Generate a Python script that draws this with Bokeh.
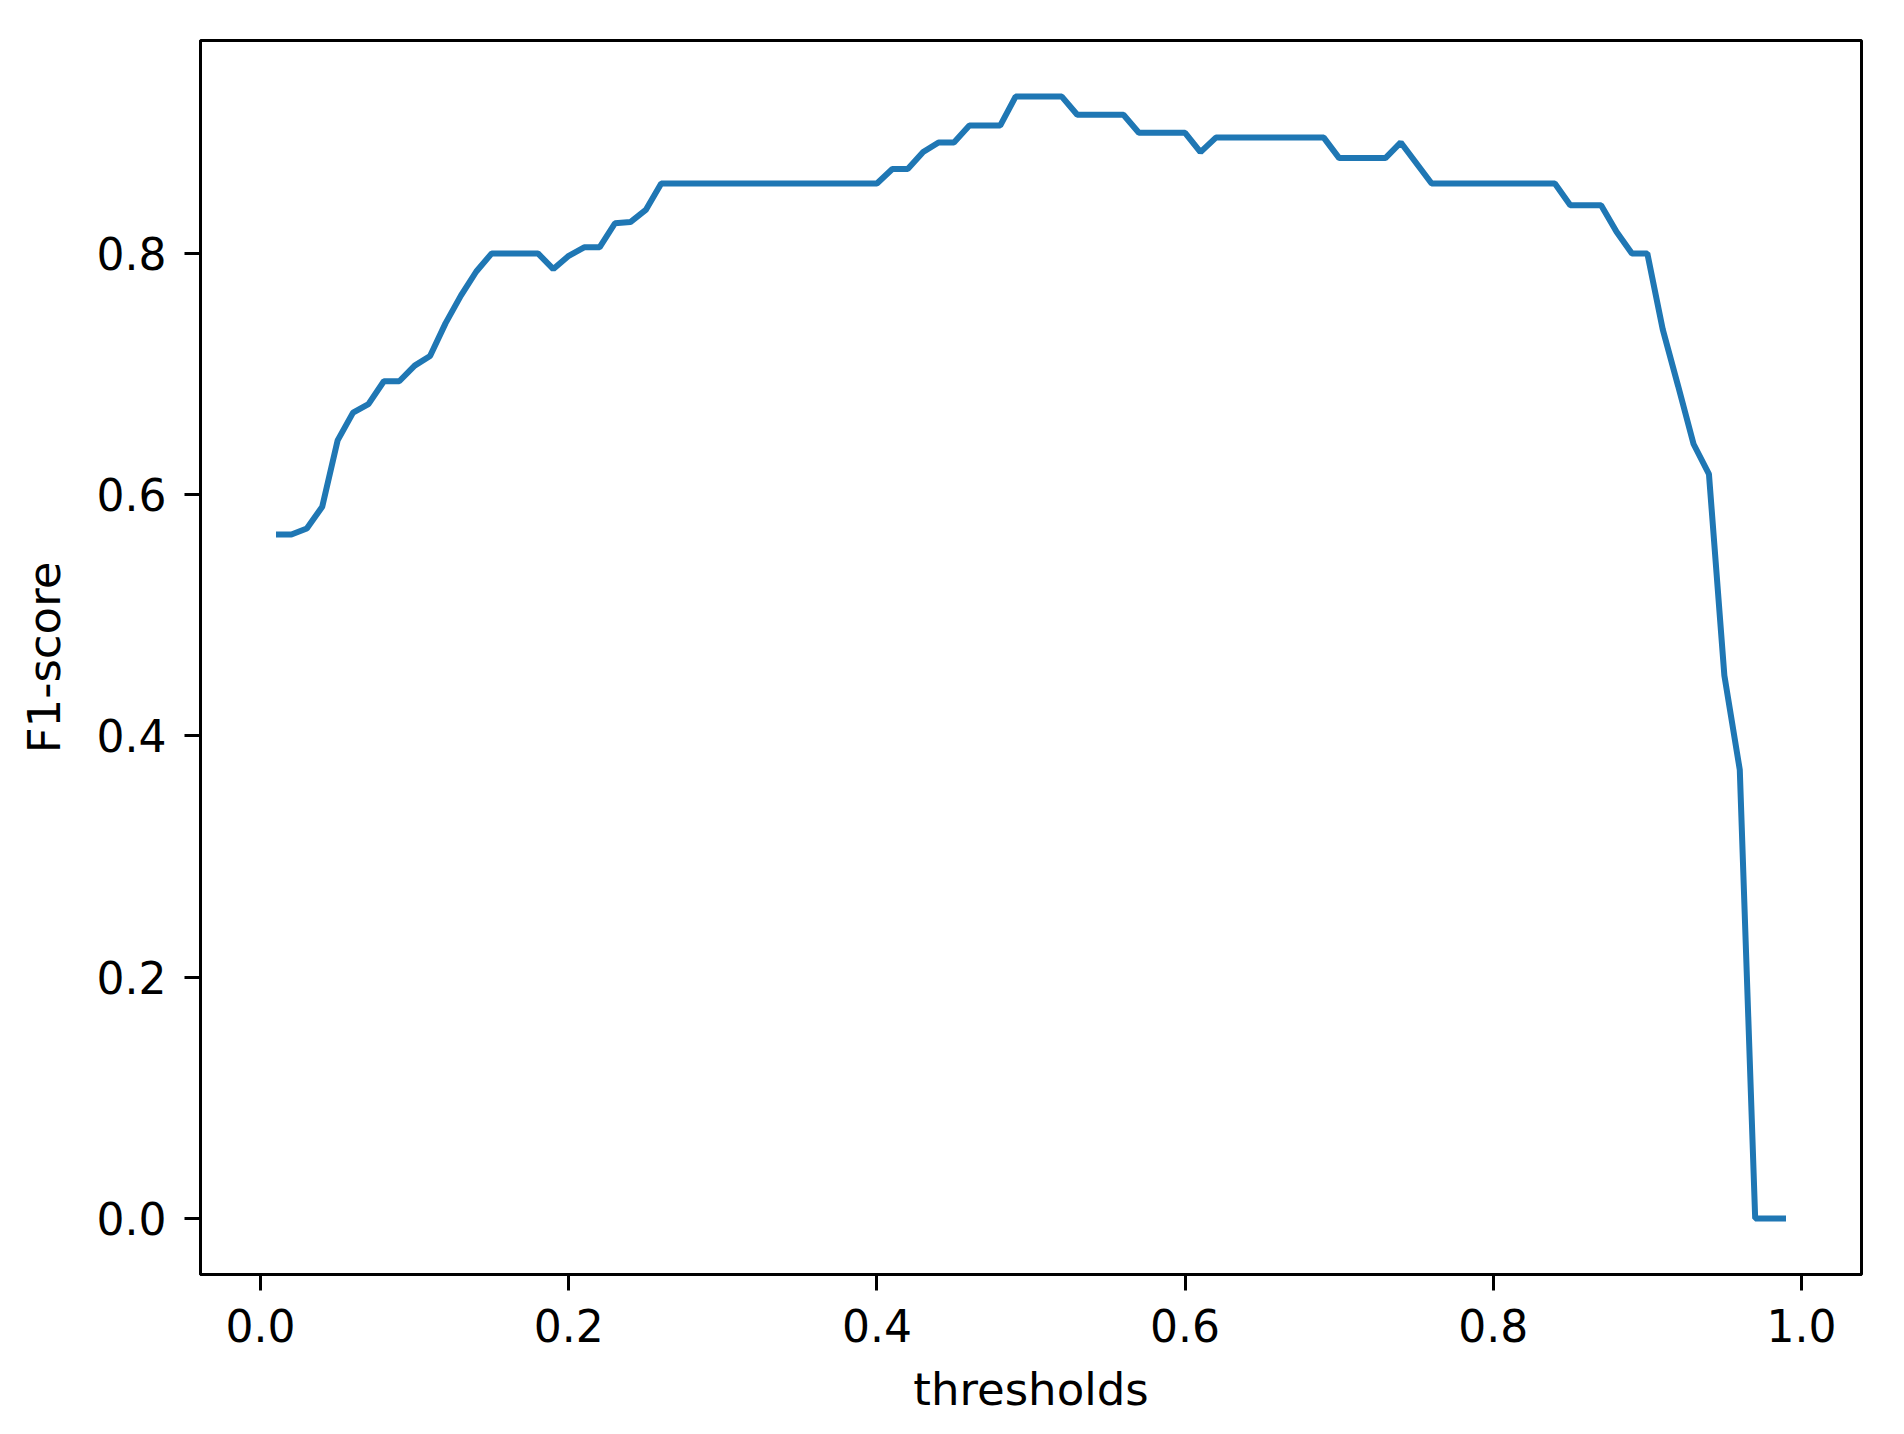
from bokeh.plotting import figure
from bokeh.models import Range1d, FixedTicker, NumeralTickFormatter, ColumnDataSource
from bokeh.embed import file_html
from bokeh.resources import INLINE

# thresholds 0.01 .. 0.99
thresholds = [round(0.01 * i, 2) for i in range(1, 100)]

f1_scores = [
    0.567, 0.567, 0.572, 0.590, 0.645, 0.668, 0.675, 0.694, 0.694, 0.707,   # 0.01-0.10
    0.715, 0.742, 0.765, 0.785, 0.800, 0.800, 0.800, 0.800, 0.787, 0.798,   # 0.11-0.20
    0.805, 0.805, 0.825, 0.826, 0.836, 0.858, 0.858, 0.858, 0.858, 0.858,   # 0.21-0.30
    0.858, 0.858, 0.858, 0.858, 0.858, 0.858, 0.858, 0.858, 0.858, 0.858,   # 0.31-0.40
    0.870, 0.870, 0.884, 0.892, 0.892, 0.906, 0.906, 0.906, 0.930, 0.930,   # 0.41-0.50
    0.930, 0.930, 0.915, 0.915, 0.915, 0.915, 0.900, 0.900, 0.900, 0.900,   # 0.51-0.60
    0.884, 0.896, 0.896, 0.896, 0.896, 0.896, 0.896, 0.896, 0.896, 0.879,   # 0.61-0.70
    0.879, 0.879, 0.879, 0.892, 0.875, 0.858, 0.858, 0.858, 0.858, 0.858,   # 0.71-0.80
    0.858, 0.858, 0.858, 0.858, 0.840, 0.840, 0.840, 0.818, 0.800, 0.800,   # 0.81-0.90
    0.737, 0.690, 0.642, 0.617, 0.450, 0.372, 0.0, 0.0, 0.0,                # 0.91-0.99
]

x_ticks = [0.0, 0.2, 0.4, 0.6, 0.8, 1.0]
y_ticks = [0.0, 0.2, 0.4, 0.6, 0.8]

source = ColumnDataSource(data=dict(x=thresholds, y=f1_scores))

FONT = "DejaVu Sans"

p = figure(
    width=1896, height=1426,
    x_range=Range1d(-0.039, 1.039),
    y_range=Range1d(-0.0465, 0.9765),
    output_backend="svg",
    toolbar_location=None,
    min_border_left=200, min_border_right=35,
    min_border_top=40, min_border_bottom=152,
)

p.line("x", "y", source=source, line_color="#1f77b4", line_width=6)

p.xgrid.visible = False
p.ygrid.visible = False
p.background_fill_color = "white"
p.border_fill_color = "white"
p.outline_line_color = "black"
p.outline_line_width = 3

p.xaxis.axis_label = "thresholds"
p.yaxis.axis_label = "F1-score"
p.xaxis.ticker = FixedTicker(ticks=x_ticks)
p.yaxis.ticker = FixedTicker(ticks=y_ticks)
p.xaxis.formatter = NumeralTickFormatter(format="0.0")
p.yaxis.formatter = NumeralTickFormatter(format="0.0")

for ax in (p.xaxis, p.yaxis):
    ax.axis_line_color = "black"
    ax.axis_line_width = 3
    ax.major_tick_in = 0
    ax.major_tick_out = 16
    ax.major_tick_line_width = 3
    ax.major_tick_line_color = "black"
    ax.minor_tick_line_color = None
    ax.major_label_text_font = FONT
    ax.major_label_text_font_size = "44px"
    ax.major_label_text_color = "black"
    ax.axis_label_text_font = FONT
    ax.axis_label_text_font_size = "45px"
    ax.axis_label_text_font_style = "normal"
    ax.axis_label_text_color = "black"

p.xaxis.major_label_standoff = 18
p.yaxis.major_label_standoff = 18
p.xaxis.axis_label_standoff = 18
p.yaxis.axis_label_standoff = 23

open("out.html", "w").write(file_html(p, INLINE))
